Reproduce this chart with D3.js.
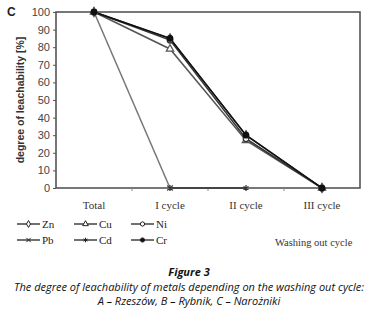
<!DOCTYPE html>
<html>
<head>
<meta charset="utf-8">
<script src="https://cdn.jsdelivr.net/npm/d3@7"></script>
<style>
  body { margin: 0; background: #fff; }
  svg { display: block; }
</style>
</head>
<body>
<script>
var width  = 378;
var height = 317;

var categories = ['Total', 'I cycle', 'II cycle', 'III cycle'];
var zn = [100, 85, 30, 0];
var cu = [100, 79, 27, 0];
var ni = [100, 84, 28, 0];
var pb = [100, 0, null, null];
var cd = [null, 0, 0, null];
var cr = [100, 85, 30, 0];
var yTicks = [0, 10, 20, 30, 40, 50, 60, 70, 80, 90, 100];

var series = [
  {name: 'Zn', values: zn, symbol: 'diamond', filled: false, color: '#444'},
  {name: 'Cu', values: cu, symbol: 'triangle', filled: false, color: '#555'},
  {name: 'Ni', values: ni, symbol: 'circle', filled: false, color: '#333'},
  {name: 'Pb', values: pb, symbol: 'cross', filled: false, color: '#777'},
  {name: 'Cd', values: cd, symbol: 'star', filled: false, color: '#333'},
  {name: 'Cr', values: cr, symbol: 'circle', filled: true, color: '#111'}
];

var margin = {left: 56, top: 12, right: 18, bottom: 129};
var plotW = width - margin.left - margin.right;
var plotH = height - margin.top - margin.bottom;

var svg = d3.select('body').append('svg')
  .attr('width', width)
  .attr('height', height);

var x = d3.scaleBand().domain(categories).range([0, plotW]);
var y = d3.scaleLinear().domain([0, 100]).range([plotH, 0]);

var g = svg.append('g')
  .attr('transform', 'translate(' + margin.left + ',' + margin.top + ')');

// frame
g.append('rect')
  .attr('width', plotW)
  .attr('height', plotH)
  .attr('fill', 'none')
  .attr('stroke', '#555')
  .attr('stroke-width', 1.6);

// y axis
var yAxis = g.append('g')
  .call(d3.axisLeft(y).tickValues(yTicks).tickSize(3).tickPadding(3));
yAxis.select('.domain').remove();
yAxis.selectAll('line').attr('stroke', '#555');
yAxis.selectAll('text')
  .attr('font-family', 'Liberation Sans, Arial, sans-serif')
  .attr('font-size', 11)
  .attr('fill', '#444');

// x axis minor ticks at band boundaries
g.selectAll('.xtick')
  .data(categories.slice(1))
  .enter().append('line')
  .attr('x1', function(d) { return x(d); })
  .attr('x2', function(d) { return x(d); })
  .attr('y1', plotH)
  .attr('y2', plotH + 3)
  .attr('stroke', '#888');

g.selectAll('.xlabel')
  .data(categories)
  .enter().append('text')
  .attr('x', function(d) { return x(d) + x.bandwidth() / 2; })
  .attr('y', plotH + 21)
  .attr('text-anchor', 'middle')
  .attr('font-family', 'Liberation Serif, Times New Roman, serif')
  .attr('font-size', 11)
  .attr('fill', '#333')
  .text(function(d) { return d; });

function cx(i) { return x(categories[i]) + x.bandwidth() / 2; }

function symbolPath(s, size) {
  var types = {
    diamond: d3.symbolDiamond, triangle: d3.symbolTriangle,
    circle: d3.symbolCircle, cross: d3.symbolTimes, star: d3.symbolAsterisk
  };
  return d3.symbol().type(types[s]).size(size)();
}

var line = d3.line()
  .defined(function(d) { return d != null; })
  .x(function(d, i) { return cx(i); })
  .y(function(d) { return y(d); });

series.forEach(function(s) {
  g.append('path')
    .datum(s.values)
    .attr('d', line)
    .attr('fill', 'none')
    .attr('stroke', s.color)
    .attr('stroke-width', 1.5);
});

series.forEach(function(s) {
  s.values.forEach(function(v, i) {
    if (v == null) return;
    g.append('path')
      .attr('d', symbolPath(s.symbol, 24))
      .attr('transform', 'translate(' + cx(i) + ',' + y(v) + ')')
      .attr('fill', s.filled ? '#111' : '#fff')
      .attr('stroke', s.color)
      .attr('stroke-width', 1.2);
  });
});

// y axis title
svg.append('text')
  .attr('transform', 'translate(24,' + (margin.top + plotH / 2) + ') rotate(-90)')
  .attr('text-anchor', 'middle')
  .attr('font-family', 'Liberation Sans, Arial, sans-serif')
  .attr('font-size', 10.5)
  .attr('font-weight', 'bold')
  .attr('fill', '#333')
  .text('degree of leachability [%]');

svg.append('text')
  .attr('x', 7)
  .attr('y', 16)
  .attr('font-family', 'Liberation Sans, Arial, sans-serif')
  .attr('font-size', 12)
  .attr('font-weight', 'bold')
  .attr('fill', '#222')
  .text('C');

// legend
var legend = svg.append('g');
series.forEach(function(s, i) {
  var col = i % 3;
  var row = Math.floor(i / 3);
  var lx = 17 + col * 57;
  var ly = 224 + row * 16;
  var item = legend.append('g').attr('transform', 'translate(' + lx + ',' + ly + ')');
  item.append('line')
    .attr('x1', 0).attr('x2', 23)
    .attr('stroke', '#222').attr('stroke-width', 1.3);
  item.append('path')
    .attr('d', symbolPath(s.symbol, 14))
    .attr('transform', 'translate(11.5,0)')
    .attr('fill', s.filled ? '#111' : '#fff')
    .attr('stroke', '#222')
    .attr('stroke-width', 1);
  item.append('text')
    .attr('x', 25)
    .attr('y', 4)
    .attr('font-family', 'Liberation Serif, Times New Roman, serif')
    .attr('font-size', 11)
    .attr('fill', '#222')
    .text(s.name);
});

svg.append('text')
  .attr('x', 275)
  .attr('y', 246)
  .attr('font-family', 'Liberation Serif, Times New Roman, serif')
  .attr('font-size', 10.5)
  .attr('fill', '#333')
  .text('Washing out cycle');

// caption
var caption = [
  {text: 'Figure 3', y: 276, bold: true},
  {text: 'The degree of leachability of metals depending on the washing out cycle:', y: 291, bold: false},
  {text: 'A \u2013 Rzesz\u00f3w, B \u2013 Rybnik, C \u2013 Naro\u017cniki', y: 305, bold: false}
];
svg.selectAll('.caption')
  .data(caption)
  .enter().append('text')
  .attr('x', width / 2)
  .attr('y', function(d) { return d.y; })
  .attr('text-anchor', 'middle')
  .attr('font-family', 'Open Sans, Noto Sans, sans-serif')
  .attr('font-style', 'italic')
  .attr('font-weight', function(d) { return d.bold ? 'bold' : 'normal'; })
  .attr('font-size', 11)
  .attr('fill', '#111')
  .text(function(d) { return d.text; });
</script>
</body>
</html>
